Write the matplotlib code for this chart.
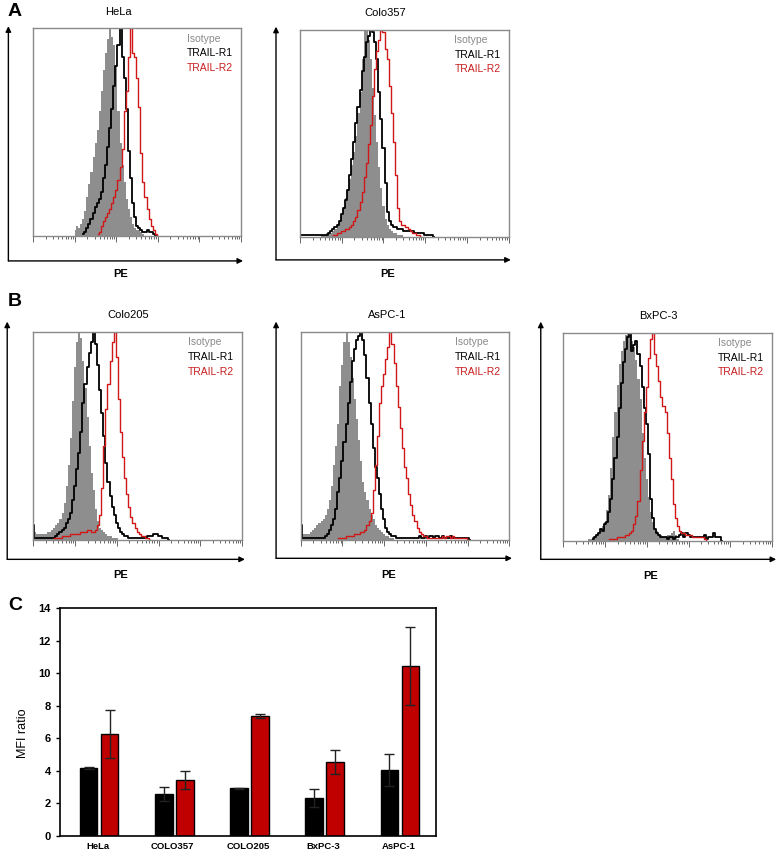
import numpy as np
import matplotlib.pyplot as plt
from matplotlib import ticker

plt.rcParams['font.family'] = ['Liberation Sans', 'DejaVu Sans']

# flow histograms, % of max, one value per 0.05-decade PE channel.
# *_start = log10(PE) of the first channel of isotype, TRAIL-R1, TRAIL-R2
hela_isotype = [3, 5, 4, 6, 8, 12, 19, 25, 31, 38, 45, 51, 60, 70, 80, 88, 95, 100, 96, 92,
                82, 60, 45, 34, 26, 18, 13, 9, 6, 4, 3, 3, 2, 1, 0]
hela_r1 = [1, 2, 4, 6, 8, 11, 14, 16, 18, 21, 28, 34, 43, 52, 61, 72, 82, 92, 100, 86,
           76, 61, 41, 28, 16, 9, 5, 4, 3, 2, 2, 3, 2, 2, 1, 0]
hela_r2 = [1, 2, 5, 7, 9, 11, 13, 16, 19, 22, 27, 33, 42, 60, 70, 86, 100, 88, 86, 76,
           62, 40, 26, 19, 13, 8, 5, 3, 1, 0]
hela_start = [1.00, 1.20, 1.55]

colo357_isotype = [1, 1, 1, 2, 2, 2, 3, 4, 6, 8, 11, 14, 19, 23, 28, 35, 41, 49, 60, 70,
                   86, 100, 100, 95, 86, 72, 59, 46, 34, 24, 15, 9, 6, 4, 3, 2, 2, 1, 1, 1, 0]
colo357_r1 = [1, 1, 1, 1, 1, 1, 1, 1, 1, 1, 1, 1, 1, 1,
              2, 3, 4, 5, 6, 8, 11, 14, 18, 23, 30, 38, 46, 55, 63, 71, 80, 87, 94, 97,
              100, 99, 94, 86, 70, 57, 43, 26, 12, 8, 6, 5, 5, 4, 4, 4, 3, 3, 3, 3, 3,
              2, 2, 2, 2, 2, 1, 1, 1, 1, 0]
colo357_r2 = [1, 1, 2, 2, 3, 3, 4, 4, 5, 6, 8, 10, 13, 17, 22, 29, 36, 45, 54, 68, 81, 90,
              95, 100, 99, 91, 86, 73, 60, 46, 30, 14, 8, 6, 6, 5, 4, 3, 2, 2, 1, 1, 0]
colo357_start = [0.50, 0.00, 0.80]

colo205_isotype = [38, 4, 3, 3, 3, 3, 3, 4, 4, 5, 6, 7, 8, 10, 13, 18, 26, 36, 49, 67,
                   83, 95, 100, 97, 86, 73, 59, 45, 32, 24, 15, 9, 6, 5, 4, 3, 2, 2, 1, 1, 1, 0]
colo205_r1 = [7, 1, 1, 1, 1, 1, 1, 1, 1, 1, 1, 2, 3, 4, 5, 6, 8, 10, 13, 19, 26, 34, 42,
              52, 66, 75, 83, 90, 95, 100, 94, 84, 72, 61, 50, 37, 28, 21, 16, 12, 8, 6, 4,
              3, 2, 2, 1, 1, 1, 1, 1, 1, 1, 1, 1, 2, 2, 2, 3, 3, 2, 2, 1, 1, 1, 0]
colo205_r2 = [1, 1, 1, 1, 2, 2, 2, 2, 3, 3, 3, 3, 3, 4, 4, 4, 5, 5, 4, 4, 5, 7, 12, 25,
              45, 63, 75, 86, 95, 100, 88, 68, 52, 40, 30, 22, 16, 11, 8, 6, 4, 3, 2, 2,
              1, 1, 0]
colo205_start = [0.00, 0.00, 0.50]

aspc1_isotype = [20, 3, 3, 3, 3, 4, 5, 6, 7, 8, 9, 10, 12, 15, 19, 26, 36, 45, 56, 74,
                 84, 95, 100, 95, 88, 78, 68, 58, 48, 38, 28, 23, 19, 15, 12, 10, 7, 6, 5,
                 4, 3, 2, 2, 1, 1, 0]
aspc1_r1 = [7, 1, 1, 1, 1, 1, 1, 1, 1, 1, 1, 1, 2, 3, 5, 7, 10, 15, 23, 30, 38, 47, 56,
            66, 76, 86, 92, 96, 98, 100, 96, 89, 78, 66, 56, 44, 35, 30, 22, 15, 10, 6, 4,
            3, 2, 2, 1, 1, 1, 1, 1, 1, 1, 1, 1, 1, 1, 2, 1, 1, 2, 1, 2, 2, 1, 2, 2, 1, 2,
            1, 1, 1, 2, 1, 1, 1, 1, 1, 1, 1, 1, 0]
aspc1_r2 = [1, 1, 1, 1, 2, 2, 2, 2, 3, 3, 3, 4, 4, 5, 7, 9, 13, 24, 36, 50, 66, 74, 80,
            87, 93, 100, 94, 85, 74, 64, 54, 44, 35, 30, 22, 17, 12, 9, 6, 4, 3, 2, 2, 1,
            1, 1, 1, 1, 1, 1, 2, 1, 2, 2, 1, 2, 1, 1, 1, 1, 1, 1, 0]
aspc1_start = [0.00, 0.00, 0.90]

bxpc3_isotype = [1, 1, 2, 2, 3, 4, 5, 7, 9, 15, 22, 35, 50, 62, 75, 85, 91, 96, 99, 100,
                 99, 96, 93, 87, 78, 68, 52, 40, 30, 21, 14, 9, 6, 5, 3, 3, 2, 2, 3, 3, 4,
                 5, 3, 1, 0]
bxpc3_r1 = [1, 2, 3, 4, 6, 5, 8, 9, 14, 20, 30, 40, 50, 64, 76, 86, 92, 98, 100, 91, 94,
            96, 90, 84, 74, 64, 56, 42, 20, 11, 6, 4, 3, 2, 2, 2, 1, 2, 2, 1, 2, 2, 3, 4,
            2, 4, 3, 2, 2, 2, 2, 2, 2, 2, 3, 1, 2, 2, 4, 2, 2, 2, 0]
bxpc3_r2 = [1, 1, 1, 1, 2, 2, 2, 2, 3, 3, 4, 5, 8, 12, 19, 34, 48, 62, 74, 88, 97, 100,
            90, 84, 77, 69, 65, 62, 52, 40, 30, 18, 11, 7, 5, 4, 4, 3, 3, 3, 2, 2, 2, 2,
            2, 2, 1, 0]
bxpc3_start = [0.60, 0.70, 1.10]

# panel C: MFI ratio
cell_lines = ['HeLa', 'COLO357', 'COLO205', 'BxPC-3', 'AsPC-1']
r1_mfi = [4.17, 2.57, 2.94, 2.34, 4.05]
r1_err = [0.04, 0.42, 0.03, 0.54, 0.96]
r2_mfi = [6.26, 3.45, 7.37, 4.56, 10.43]
r2_err = [1.50, 0.54, 0.13, 0.75, 2.41]

BIN = 0.05
ISO_FILL = '#8e8e8e'
ISO_TEXT = '#8a8a8a'
RED_LINE = '#d01818'
RED_BAR = '#c00000'
W, H = 778, 852


def px_rect(x0, y0, x1, y1):
    return [x0 / W, 1 - y1 / H, (x1 - x0) / W, (y1 - y0) / H]


def channels(start, counts):
    return 10 ** (start + BIN * np.arange(len(counts)))


def flow_panel(fig, rect, name, iso, r1, r2, starts, title_x, arrow):
    ax = fig.add_axes(rect)
    ax.fill_between(channels(starts[0], iso), iso, step='mid', color=ISO_FILL, lw=0)
    ax.plot(channels(starts[1], r1), r1, drawstyle='steps-mid', color='black', lw=1.3)
    ax.plot(channels(starts[2], r2), r2, drawstyle='steps-mid', color=RED_LINE, lw=1.0)
    ax.set_xscale('log')
    ax.set_xlim(1, 1e5)
    ax.set_ylim(0, 100)
    ax.set_yticks([])
    ax.xaxis.set_major_locator(ticker.LogLocator(base=10, numticks=10))
    ax.xaxis.set_minor_locator(ticker.LogLocator(base=10, subs=np.arange(2, 10),
                                                 numticks=100))
    ax.xaxis.set_minor_formatter(ticker.NullFormatter())
    ax.tick_params(axis='x', which='both', direction='out', color='#666666',
                   labelbottom=False, width=0.7)
    ax.tick_params(axis='x', which='major', length=4)
    ax.tick_params(axis='x', which='minor', length=2.5)
    for s in ax.spines.values():
        s.set_color('#8a8a8a')
        s.set_linewidth(1.0)

    for y, lab, c in [(0.95, 'Isotype', ISO_TEXT), (0.88, 'TRAIL-R1', 'black'),
                      (0.81, 'TRAIL-R2', '#c81e1e')]:
        ax.text(0.74, y, lab, color=c, fontsize=7.5, va='center', transform=ax.transAxes)
    ax.text(title_x, 1.08, name, fontsize=8, ha='center', va='center',
            transform=ax.transAxes)

    ax0, ay0, top, right, pe_y = arrow
    ax.text(0.42, pe_y, 'PE', fontsize=8, fontweight='bold', ha='center', va='center',
            transform=ax.transAxes)
    ap = dict(arrowstyle='-|>', color='black', lw=1.0, mutation_scale=8,
              shrinkA=0, shrinkB=0)
    ax.annotate('', xy=(ax0, top), xytext=(ax0, ay0), xycoords='axes fraction',
                arrowprops=ap, annotation_clip=False)
    ax.annotate('', xy=(right, ay0), xytext=(ax0, ay0), xycoords='axes fraction',
                arrowprops=ap, annotation_clip=False)
    return ax


fig = plt.figure(figsize=(W / 100, H / 100), dpi=100)

flow_panel(fig, px_rect(33.3, 28.3, 241, 236), 'HeLa', hela_isotype, hela_r1, hela_r2,
           hela_start, 0.41, (-0.12, -0.12, 1.01, 1.01, -0.183))
flow_panel(fig, px_rect(300, 30, 508.7, 237.3), 'Colo357', colo357_isotype, colo357_r1,
           colo357_r2, colo357_start, 0.41, (-0.115, -0.109, 1.016, 1.01, -0.177))
flow_panel(fig, px_rect(33.3, 332, 242, 540), 'Colo205', colo205_isotype, colo205_r1,
           colo205_r2, colo205_start, 0.455, (-0.125, -0.093, 1.05, 1.014, -0.17))
flow_panel(fig, px_rect(300.7, 332, 509.3, 540), 'AsPC-1', aspc1_isotype, aspc1_r1,
           aspc1_r2, aspc1_start, 0.414, (-0.118, -0.088, 1.05, 1.013, -0.17))
flow_panel(fig, px_rect(563.3, 332.7, 772, 541), 'BxPC-3', bxpc3_isotype, bxpc3_r1,
           bxpc3_r2, bxpc3_start, 0.455, (-0.108, -0.088, 1.053, 1.02, -0.17))

# panel C
axc = fig.add_axes(px_rect(60, 608, 436, 836))
pos = np.arange(len(cell_lines))
bw = 0.235
axc.bar(pos - 0.12, r1_mfi, bw, color='black', edgecolor='black', lw=1.0, zorder=2)
axc.bar(pos + 0.16, r2_mfi, bw, color=RED_BAR, edgecolor='black', lw=1.0, zorder=2)
axc.errorbar(pos - 0.12, r1_mfi, yerr=r1_err, fmt='none', ecolor='#222222', elinewidth=1,
             capsize=3.5, capthick=1, zorder=3)
axc.errorbar(pos + 0.16, r2_mfi, yerr=r2_err, fmt='none', ecolor='#222222', elinewidth=1,
             capsize=3.5, capthick=1, zorder=3)
axc.set_xlim(-0.5, len(cell_lines) - 0.5)
axc.set_ylim(0, 14)
axc.set_yticks(range(0, 15, 2))
axc.set_xticks(pos)
axc.set_xticklabels(cell_lines, fontsize=6.8, fontweight='bold')
axc.tick_params(axis='x', length=0, pad=4)
axc.tick_params(axis='y', length=3, width=1, labelsize=8)
for lab in axc.get_yticklabels():
    lab.set_fontweight('bold')
for s in axc.spines.values():
    s.set_linewidth(1.2)
axc.set_ylabel('MFI ratio', fontsize=9)
axc.yaxis.set_label_coords(-0.082, 0.45)

fig.text(8 / W, 1 - 12 / H, 'A', fontsize=14, fontweight='bold', ha='left', va='center')
fig.text(8 / W, 1 - 302 / H, 'B', fontsize=14, fontweight='bold', ha='left', va='center')
fig.text(8 / W, 1 - 605 / H, 'C', fontsize=14, fontweight='bold', ha='left', va='center')

fig.savefig('out.png', dpi=100)
